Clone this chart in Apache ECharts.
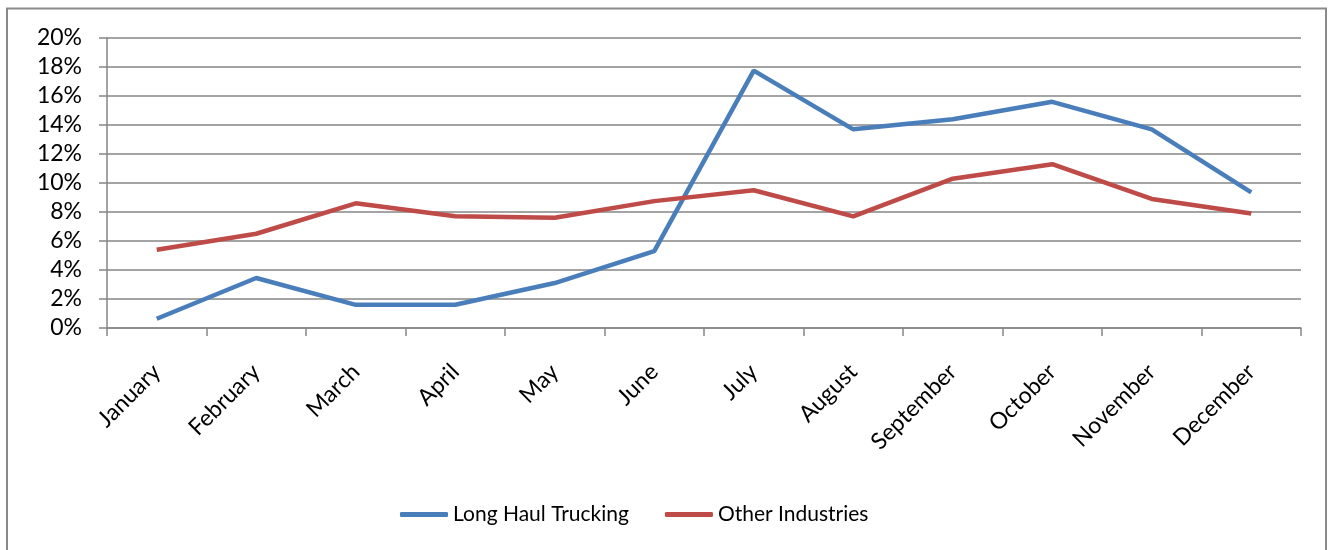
<!DOCTYPE html>
<html>
<head>
<meta charset="utf-8">
<script src="https://cdn.jsdelivr.net/npm/echarts@6/dist/echarts.min.js"></script>
<style>
html,body{margin:0;padding:0;background:#fff;}
#chart{width:1328px;height:550px;}
</style>
</head>
<body>
<div id="chart"></div>
<script>
const months = ['January','February','March','April','May','June','July','August','September','October','November','December'];
const longHaulTrucking = [0.64, 3.45, 1.6, 1.6, 3.1, 5.3, 17.75, 13.7, 14.4, 15.6, 13.7, 9.35];
const otherIndustries = [5.4, 6.5, 8.6, 7.7, 7.6, 8.75, 9.5, 7.7, 10.3, 11.3, 8.9, 7.9];
const seriesNames = ['Long Haul Trucking', 'Other Industries'];

const FONT = 'Lato, "Open Sans", sans-serif';
const chart = echarts.init(document.getElementById('chart'), null, {renderer: 'canvas'});
chart.setOption({
  animation: false,
  backgroundColor: '#fff',
  graphic: [{
    type: 'rect',
    shape: {x: 7, y: 8.5, width: 1319, height: 545},
    style: {fill: 'none', stroke: '#8a8a8a', lineWidth: 2},
    silent: true
  }],
  grid: {left: 107, right: 27, top: 38, bottom: 222, containLabel: false},
  legend: {
    data: seriesNames,
    bottom: 20,
    left: 395,
    icon: 'roundRect',
    itemWidth: 48,
    itemHeight: 5,
    itemGap: 36,
    textStyle: {fontFamily: FONT, fontSize: 21, color: '#000'}
  },
  xAxis: {
    type: 'category',
    data: months,
    boundaryGap: true,
    axisLine: {lineStyle: {color: '#868686', width: 1.5}},
    axisTick: {show: true, length: 8, lineStyle: {color: '#868686', width: 1.5}},
    axisLabel: {rotate: 45, margin: 40, fontFamily: FONT, fontSize: 23, color: '#000', interval: 0}
  },
  yAxis: {
    type: 'value',
    min: 0, max: 20, interval: 2,
    axisLine: {show: true, lineStyle: {color: '#868686', width: 1.5}},
    axisTick: {show: true, length: 8, lineStyle: {color: '#868686', width: 1.5}},
    splitLine: {lineStyle: {color: '#868686', width: 1.5}},
    axisLabel: {margin: 25, fontFamily: FONT, fontSize: 23, color: '#000', formatter: v => v + '%'}
  },
  series: [
    {
      name: seriesNames[0], type: 'line', data: longHaulTrucking,
      symbol: 'none', lineStyle: {color: '#4A7EBB', width: 4.5}, itemStyle: {color: '#4A7EBB'}
    },
    {
      name: seriesNames[1], type: 'line', data: otherIndustries,
      symbol: 'none', lineStyle: {color: '#BE4B48', width: 4.5}, itemStyle: {color: '#BE4B48'}
    }
  ]
});
</script>
</body>
</html>
